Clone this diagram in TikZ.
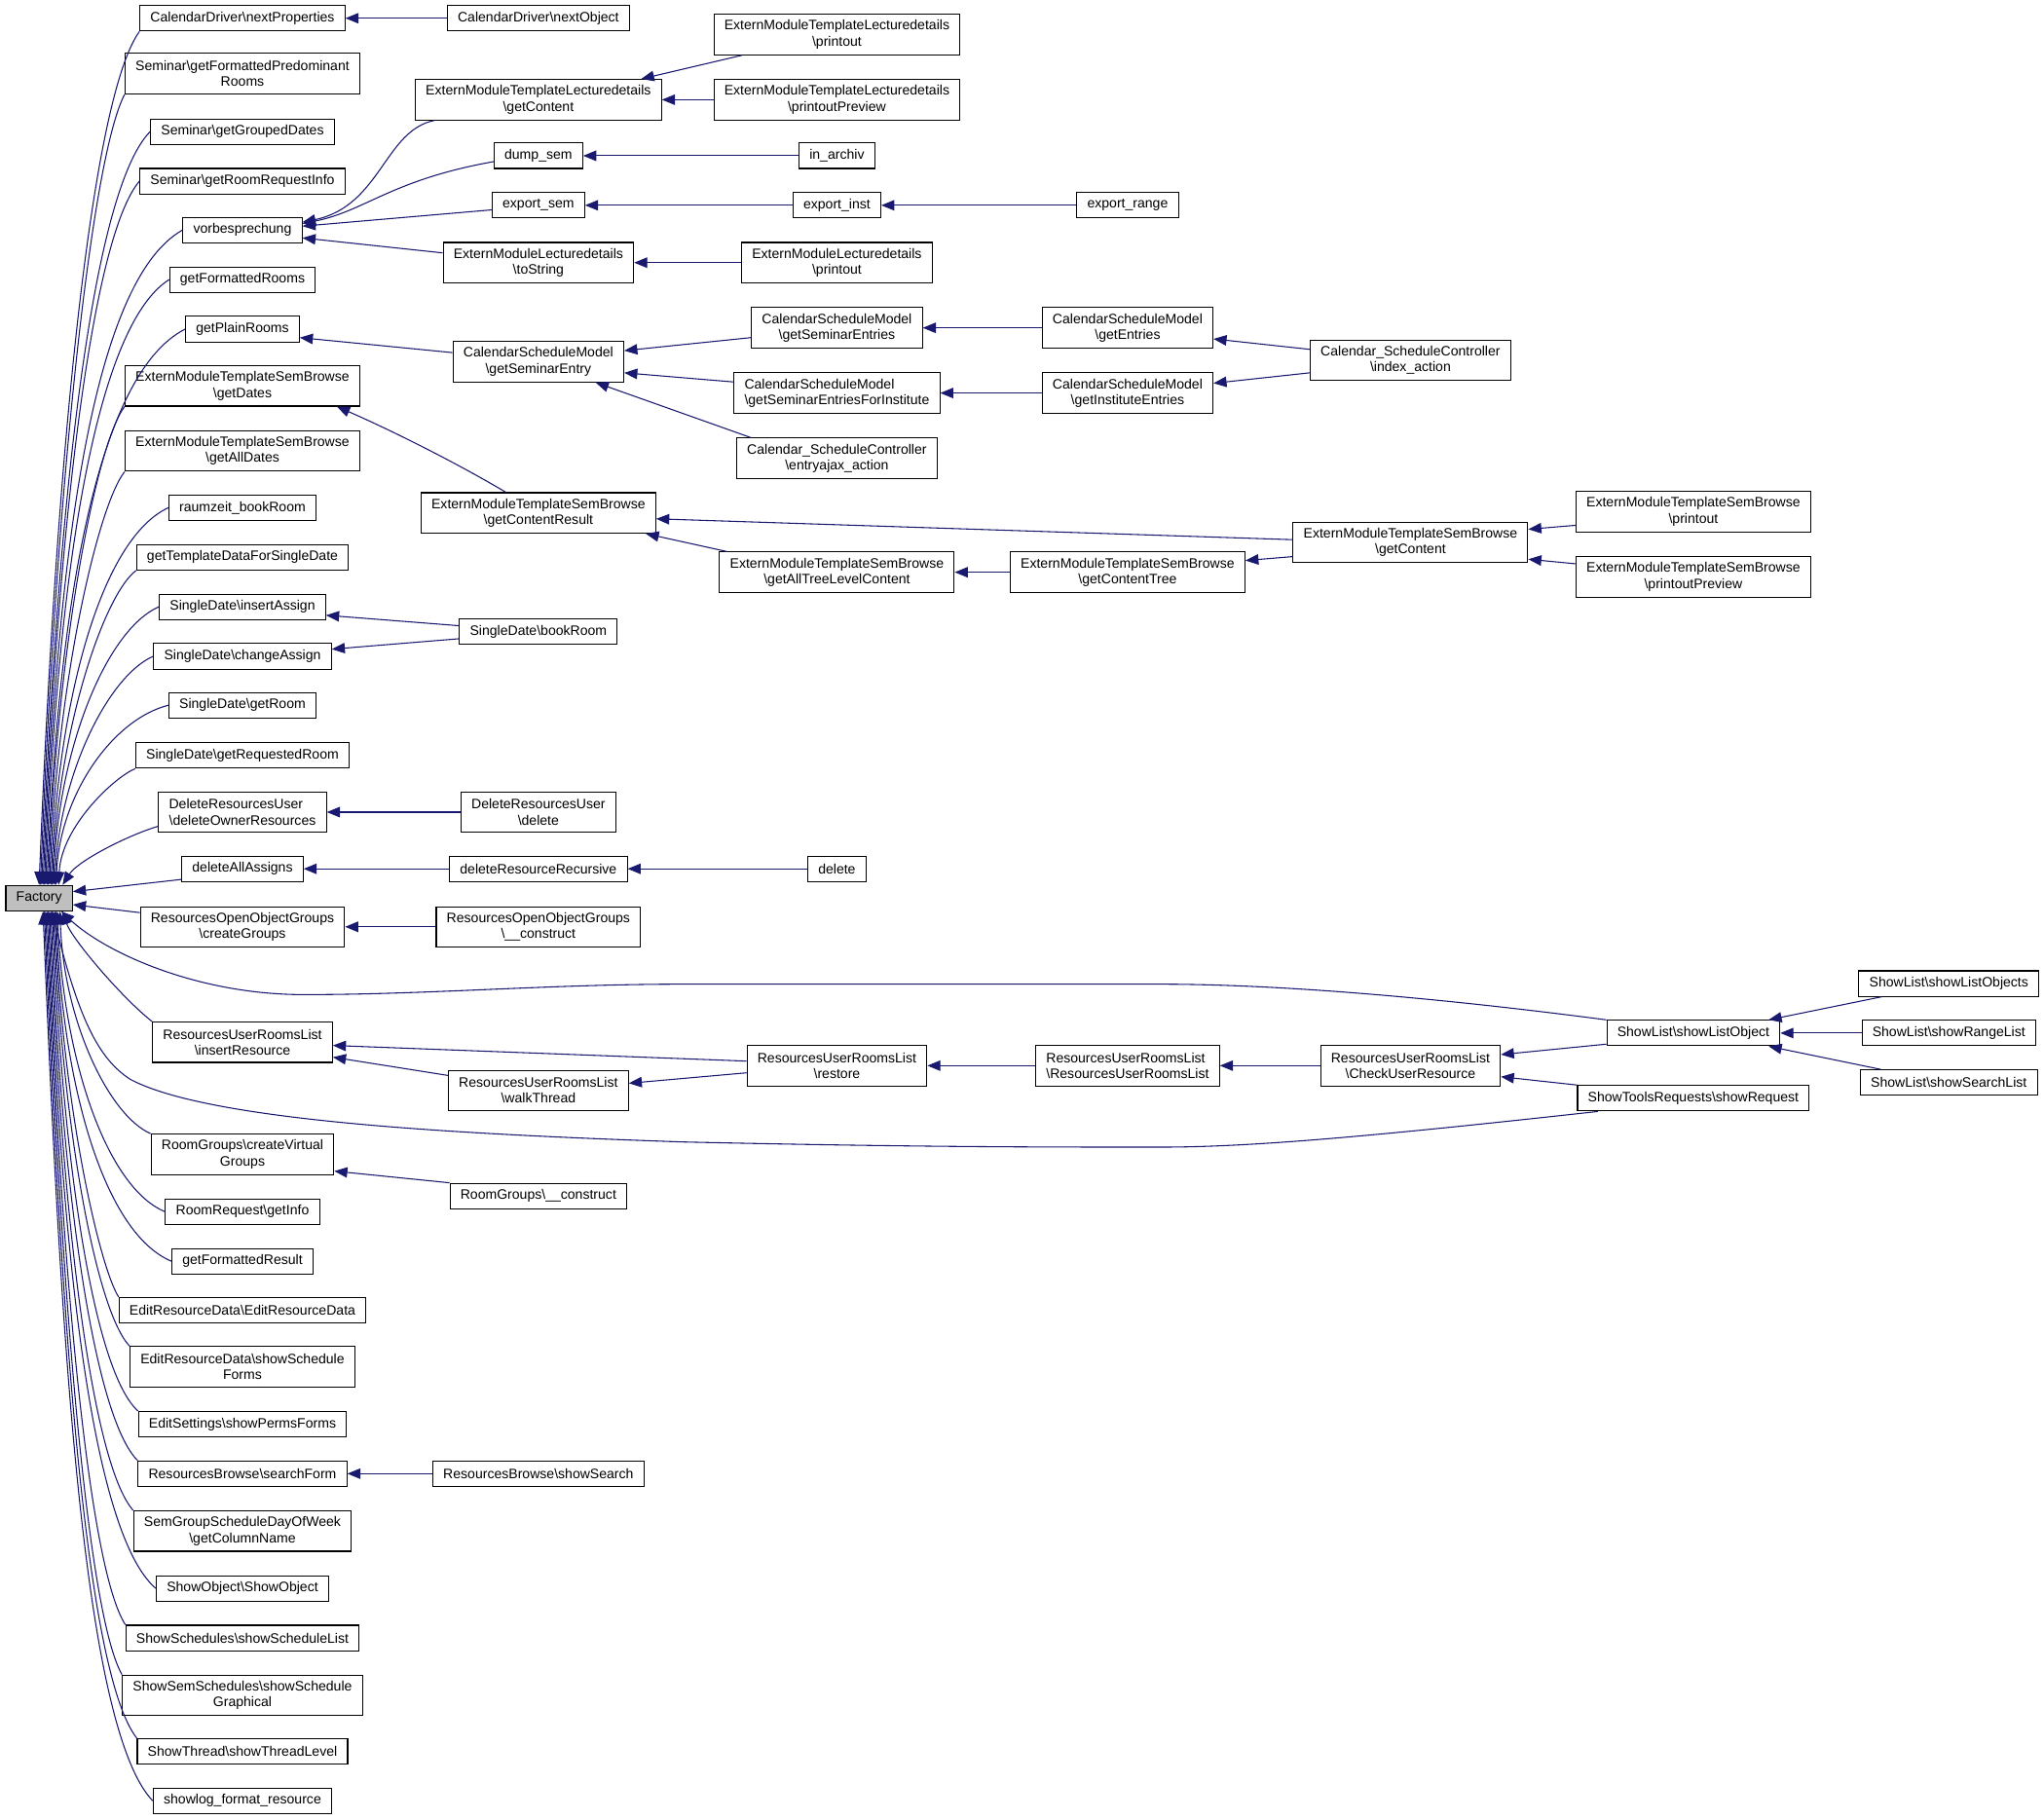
\documentclass[tikz,border=0pt]{standalone}
\usepackage{fontspec}
\setmainfont{Liberation Sans}
\usetikzlibrary{arrows.meta}
\definecolor{edgeblue}{HTML}{191970}
\definecolor{rootgray}{HTML}{BFBFBF}
\newcommand{\bksl}{\textbackslash}
\tikzset{
  fn/.style={draw=black, line width=0.8pt, fill=white, align=center, inner xsep=8pt, inner ysep=3pt, minimum height=19.5pt, font=\fontsize{10.5}{12.2}\selectfont},
  fn2/.style={fn, minimum height=31pt},
  root/.style={fn, fill=rootgray},
  call/.style={draw=edgeblue, line width=0.8pt, {Triangle[length=10pt,width=8pt]}-}
}
\begin{document}
\begin{tikzpicture}[x=1pt,y=-1pt]
\useasboundingbox (0,0) rectangle (1568,1396);

\node[root] (factory) at (30,689) {Factory};

\node[fn] (nextProps) at (186,14) {CalendarDriver\bksl nextProperties};
\node[fn2] (fmtPredRooms) at (186,56.5) {Seminar\bksl getFormattedPredominant\\Rooms};
\node[fn] (groupedDates) at (186,101) {Seminar\bksl getGroupedDates};
\node[fn] (roomReqInfo) at (186,139) {Seminar\bksl getRoomRequestInfo};
\node[fn] (vorbesp) at (186,176.5) {vorbesprechung};
\node[fn] (fmtRooms) at (186,214.5) {getFormattedRooms};
\node[fn] (plainRooms) at (186,252.5) {getPlainRooms};
\node[fn2] (sbGetDates) at (186,296) {ExternModuleTemplateSemBrowse\\\bksl getDates};
\node[fn2] (sbAllDates) at (186,346) {ExternModuleTemplateSemBrowse\\\bksl getAllDates};
\node[fn] (rzBookRoom) at (186,389.5) {raumzeit\_bookRoom};
\node[fn] (tplSingleDate) at (186,427.5) {getTemplateDataForSingleDate};
\node[fn] (sdInsert) at (186,465.5) {SingleDate\bksl insertAssign};
\node[fn] (sdChange) at (186,503.5) {SingleDate\bksl changeAssign};
\node[fn] (sdGetRoom) at (186,541) {SingleDate\bksl getRoom};
\node[fn] (sdReqRoom) at (186,579.5) {SingleDate\bksl getRequestedRoom};
\node[fn2, align=left] (delOwnerRes) at (186,623) {DeleteResourcesUser\\\bksl deleteOwnerResources};
\node[fn] (delAllAssigns) at (186,666.5) {deleteAllAssigns};
\node[fn2] (createGroups) at (186,711) {ResourcesOpenObjectGroups\\\bksl createGroups};
\node[fn2] (insertRes) at (186,799.5) {ResourcesUserRoomsList\\\bksl insertResource};
\node[fn2] (createVirt) at (186,885.5) {RoomGroups\bksl createVirtual\\Groups};
\node[fn] (rrGetInfo) at (186,929.5) {RoomRequest\bksl getInfo};
\node[fn] (fmtResult) at (186,967.5) {getFormattedResult};
\node[fn] (editResData) at (186,1005) {EditResourceData\bksl EditResourceData};
\node[fn2] (showSchedForms) at (186,1048.5) {EditResourceData\bksl showSchedule\\Forms};
\node[fn] (permsForms) at (186,1092.5) {EditSettings\bksl showPermsForms};
\node[fn] (searchForm) at (186,1130.5) {ResourcesBrowse\bksl searchForm};
\node[fn2] (colName) at (186,1174.5) {SemGroupScheduleDayOfWeek\\\bksl getColumnName};
\node[fn] (showObject) at (186,1218.5) {ShowObject\bksl ShowObject};
\node[fn] (schedList) at (186,1256.5) {ShowSchedules\bksl showScheduleList};
\node[fn2] (schedGraph) at (186,1300.5) {ShowSemSchedules\bksl showSchedule\\Graphical};
\node[fn] (threadLevel) at (186,1343.5) {ShowThread\bksl showThreadLevel};
\node[fn] (showlogRes) at (186,1381.5) {showlog\_format\_resource};

\node[fn] (nextObj) at (413,14) {CalendarDriver\bksl nextObject};
\node[fn2] (ltGetContent) at (413,76.5) {ExternModuleTemplateLecturedetails\\\bksl getContent};
\node[fn] (dumpSem) at (413,119.5) {dump\_sem};
\node[fn] (exportSem) at (413,157.5) {export\_sem};
\node[fn2] (ldToString) at (413,201.5) {ExternModuleLecturedetails\\\bksl toString};
\node[fn2] (seminarEntry) at (413,277.5) {CalendarScheduleModel\\\bksl getSeminarEntry};
\node[fn2] (contentResult) at (413,393.5) {ExternModuleTemplateSemBrowse\\\bksl getContentResult};
\node[fn] (sdBookRoom) at (413,484.5) {SingleDate\bksl bookRoom};
\node[fn2] (druDelete) at (413,623) {DeleteResourcesUser\\\bksl delete};
\node[fn] (delResRec) at (413,666.5) {deleteResourceRecursive};
\node[fn2] (roogConstruct) at (413,711) {ResourcesOpenObjectGroups\\\bksl\_\_construct};
\node[fn2] (walkThread) at (413,836.5) {ResourcesUserRoomsList\\\bksl walkThread};
\node[fn] (rgConstruct) at (413,917.5) {RoomGroups\bksl\_\_construct};
\node[fn] (showSearch) at (413,1130.5) {ResourcesBrowse\bksl showSearch};

\node[fn2] (ltPrintout) at (642,26.5) {ExternModuleTemplateLecturedetails\\\bksl printout};
\node[fn2] (ltPreview) at (642,76.5) {ExternModuleTemplateLecturedetails\\\bksl printoutPreview};
\node[fn] (inArchiv) at (642,119.5) {in\_archiv};
\node[fn] (exportInst) at (642,157.5) {export\_inst};
\node[fn2] (ldPrintout) at (642,201.5) {ExternModuleLecturedetails\\\bksl printout};
\node[fn2] (seminarEntries) at (642,251.5) {CalendarScheduleModel\\\bksl getSeminarEntries};
\node[fn2, align=left] (semEntriesInst) at (642,301.5) {CalendarScheduleModel\\\bksl getSeminarEntriesForInstitute};
\node[fn2] (entryAjax) at (642,351.5) {Calendar\_ScheduleController\\\bksl entryajax\_action};
\node[fn2] (allTreeLevel) at (642,439) {ExternModuleTemplateSemBrowse\\\bksl getAllTreeLevelContent};
\node[fn] (deleteFn) at (642,666.5) {delete};
\node[fn2] (restore) at (642,817.5) {ResourcesUserRoomsList\\\bksl restore};

\node[fn] (exportRange) at (865,157.5) {export\_range};
\node[fn2] (getEntries) at (865,251.5) {CalendarScheduleModel\\\bksl getEntries};
\node[fn2] (instEntries) at (865,301.5) {CalendarScheduleModel\\\bksl getInstituteEntries};
\node[fn2] (contentTree) at (865,439) {ExternModuleTemplateSemBrowse\\\bksl getContentTree};
\node[fn2, align=left] (rurlCtor) at (865,817.5) {ResourcesUserRoomsList\\\bksl ResourcesUserRoomsList};

\node[fn2] (indexAction) at (1082,276.5) {Calendar\_ScheduleController\\\bksl index\_action};
\node[fn2] (sbGetContent) at (1082,416) {ExternModuleTemplateSemBrowse\\\bksl getContent};
\node[fn2] (checkUserRes) at (1082,817.5) {ResourcesUserRoomsList\\\bksl CheckUserResource};

\node[fn2] (sbPrintout) at (1299,392.5) {ExternModuleTemplateSemBrowse\\\bksl printout};
\node[fn2] (sbPreview) at (1299,442.5) {ExternModuleTemplateSemBrowse\\\bksl printoutPreview};
\node[fn] (showListObj) at (1299,792.5) {ShowList\bksl showListObject};
\node[fn] (showRequest) at (1299,842.5) {ShowToolsRequests\bksl showRequest};

\node[fn] (showListObjs) at (1495,754.5) {ShowList\bksl showListObjects};
\node[fn] (showRangeList) at (1495,792.5) {ShowList\bksl showRangeList};
\node[fn] (showSearchList) at (1495,830.5) {ShowList\bksl showSearchList};

\draw[call] (factory.north) .. controls (43,351) and (70,75) .. (nextProps.south west);
\draw[call] ([xshift=1pt]factory.north) .. controls (43,376) and (70,121) .. (fmtPredRooms.south west);
\draw[call] ([xshift=2pt]factory.north) .. controls (44,390) and (70,147) .. (groupedDates.west);
\draw[call] ([xshift=3pt]factory.north) .. controls (44,409) and (70,182) .. (roomReqInfo.west);
\draw[call] ([xshift=4pt]factory.north) .. controls (44,428) and (70,216) .. (vorbesp.west);
\draw[call] ([xshift=5pt]factory.north) .. controls (44,447) and (72,251) .. (fmtRooms.west);
\draw[call] ([xshift=6pt]factory.north) .. controls (45,466) and (74,287) .. (plainRooms.west);
\draw[call] ([xshift=7pt]factory.north) .. controls (44,495) and (74,340) .. (sbGetDates.south west);
\draw[call] ([xshift=8pt]factory.north) .. controls (44,520) and (76,386) .. (sbAllDates.south west);
\draw[call] ([xshift=9pt]factory.north) .. controls (45,535) and (78,413) .. (rzBookRoom.west);
\draw[call] ([xshift=10pt]factory.north) .. controls (45,558) and (80,456) .. (tplSingleDate.south west);
\draw[call] ([xshift=11pt]factory.north) .. controls (45,573) and (82,483) .. (sdInsert.west);
\draw[call] ([xshift=12pt]factory.north) .. controls (46,592) and (84,518) .. (sdChange.west);
\draw[call] ([xshift=13pt]factory.north) .. controls (46,610) and (86,552) .. (sdGetRoom.west);
\draw[call] ([xshift=15pt]factory.north) .. controls (47,634) and (88,596) .. (sdReqRoom.south west);
\draw[call] ([xshift=18pt]factory.north) .. controls (60,660) and (100,640) .. ([yshift=5pt]delOwnerRes.south west);
\draw[call] ([yshift=5pt]factory.east) -- ([yshift=2pt]delAllAssigns.south west);
\draw[call] ([yshift=-5pt]factory.east) -- ([yshift=-5pt]createGroups.north west);
\draw[call] ([xshift=18pt]factory.south) .. controls (55,720) and (93,765) .. (insertRes.north west);
\draw[call] ([xshift=16pt]factory.south) .. controls (49,784) and (84,856) .. (createVirt.north west);
\draw[call] ([xshift=14pt]factory.south) .. controls (49,814) and (82,911) .. (rrGetInfo.west);
\draw[call] ([xshift=13pt]factory.south) .. controls (48,833) and (80,946) .. (fmtResult.west);
\draw[call] ([xshift=12pt]factory.south) .. controls (48,847) and (76,971) .. (editResData.north west);
\draw[call] ([xshift=11pt]factory.south) .. controls (48,866) and (74,1006) .. (showSchedForms.north west);
\draw[call] ([xshift=10pt]factory.south) .. controls (48,891) and (72,1052) .. (permsForms.north west);
\draw[call] ([xshift=9pt]factory.south) .. controls (47,910) and (72,1087) .. (searchForm.north west);
\draw[call] ([xshift=8pt]factory.south) .. controls (47,929) and (70,1122) .. (colName.north west);
\draw[call] ([xshift=7pt]factory.south) .. controls (47,958) and (70,1176) .. (showObject.west);
\draw[call] ([xshift=6pt]factory.south) .. controls (47,973) and (68,1203) .. (schedList.north west);
\draw[call] ([xshift=5pt]factory.south) .. controls (47,992) and (67,1238) .. (schedGraph.north west);
\draw[call] ([xshift=4pt]factory.south) .. controls (47,1017) and (66,1284) .. (threadLevel.north west);
\draw[call] ([xshift=3pt]factory.south) .. controls (47,1041) and (65,1327) .. (showlogRes.west);
\draw[call] ([xshift=17pt]factory.south) .. controls (80,730) and (150,763) .. (233,763) .. controls (330,763) and (420,755) .. (523,755) -- (890,755) .. controls (980,755) and (1100,765) .. (showListObj.north west);
\draw[call] ([xshift=10pt]factory.south) .. controls (60,780) and (75,812) .. (100,828) .. controls (160,860) and (350,870) .. (523,876) .. controls (700,880) and (800,880) .. (890,880) .. controls (960,880) and (1050,872) .. ([xshift=16pt]showRequest.south west);

\draw[call] (nextProps) -- (nextObj);
\draw[call] ([yshift=6pt]vorbesp.east) .. controls (292,158) and (295,100) .. ([xshift=15pt]ltGetContent.south west);
\draw[call] ([yshift=5pt]vorbesp.east) .. controls (280,162) and (300,138) .. ([yshift=-4.5pt]dumpSem.west);
\draw[call] ([yshift=3pt]vorbesp.east) -- ([yshift=-3.5pt]exportSem.west);
\draw[call] ([yshift=-6pt]vorbesp.east) -- ([yshift=7.5pt]ldToString.west);
\draw[call] ([xshift=-16pt]ltGetContent.north east) -- ([xshift=22pt]ltPrintout.south west);
\draw[call] (ltGetContent) -- (ltPreview);
\draw[call] (dumpSem) -- (inArchiv);
\draw[call] (exportSem) -- (exportInst);
\draw[call] (exportInst) -- (exportRange);
\draw[call] (ldToString) -- (ldPrintout);
\draw[call] ([yshift=-6.5pt]plainRooms.east) -- ([yshift=7pt]seminarEntry.west);
\draw[call] ([yshift=8.5pt]seminarEntry.east) -- ([yshift=-7.5pt]seminarEntries.west);
\draw[call] ([yshift=-8.5pt]seminarEntry.east) -- ([yshift=8.5pt]semEntriesInst.west);
\draw[call] ([xshift=-22pt]seminarEntry.south east) -- ([xshift=11pt]entryAjax.north west);
\draw[call] (seminarEntries) -- (getEntries);
\draw[call] (semEntriesInst) -- (instEntries);
\draw[call] ([yshift=-8.5pt]getEntries.east) -- ([yshift=8.5pt]indexAction.west);
\draw[call] ([yshift=7.5pt]instEntries.east) -- ([yshift=-9.5pt]indexAction.west);
\draw[call] ([xshift=-18pt]sbGetDates.south east) .. controls (300,330) and (350,355) .. ([xshift=-25pt]contentResult.north);
\draw[call] ([yshift=-4.5pt]contentResult.east) -- ([yshift=2pt]sbGetContent.west);
\draw[call] ([xshift=-8pt]contentResult.south east) -- ([xshift=6pt]allTreeLevel.north west);
\draw[call] (allTreeLevel) -- (contentTree);
\draw[call] ([yshift=9pt]contentTree.east) -- ([yshift=-11pt]sbGetContent.west);
\draw[call] ([yshift=10pt]sbGetContent.east) -- ([yshift=-10.5pt]sbPrintout.west);
\draw[call] ([yshift=-13pt]sbGetContent.east) -- ([yshift=10pt]sbPreview.west);
\draw[call] ([yshift=-6.5pt]sdInsert.east) -- ([yshift=4.5pt]sdBookRoom.west);
\draw[call] ([yshift=5.5pt]sdChange.east) -- ([yshift=-5.5pt]sdBookRoom.west);
\draw[call] (delOwnerRes) -- (druDelete);
\draw[call] (delAllAssigns) -- (delResRec);
\draw[call] (delResRec) -- (deleteFn);
\draw[call] (createGroups) -- (roogConstruct);
\draw[call] ([yshift=-2.5pt]insertRes.east) -- ([yshift=3.5pt]restore.west);
\draw[call] ([yshift=-11.5pt]insertRes.east) -- ([yshift=11.5pt]walkThread.west);
\draw[call] ([yshift=5.5pt]walkThread.east) -- ([yshift=-5.5pt]restore.west);
\draw[call] (restore) -- (rurlCtor);
\draw[call] (rurlCtor) -- (checkUserRes);
\draw[call] ([yshift=8.5pt]checkUserRes.east) -- ([yshift=-8.5pt]showListObj.west);
\draw[call] ([yshift=-8.5pt]checkUserRes.east) -- (showRequest.north west);
\draw[call] ([xshift=-9pt]showListObj.north east) -- ([xshift=18pt]showListObjs.south west);
\draw[call] (showListObj) -- (showRangeList);
\draw[call] ([xshift=-9pt]showListObj.south east) -- ([xshift=16pt]showSearchList.north west);
\draw[call] ([yshift=3pt]createVirt.south east) -- (rgConstruct.north west);
\draw[call] (searchForm) -- (showSearch);
\end{tikzpicture}
\end{document}
